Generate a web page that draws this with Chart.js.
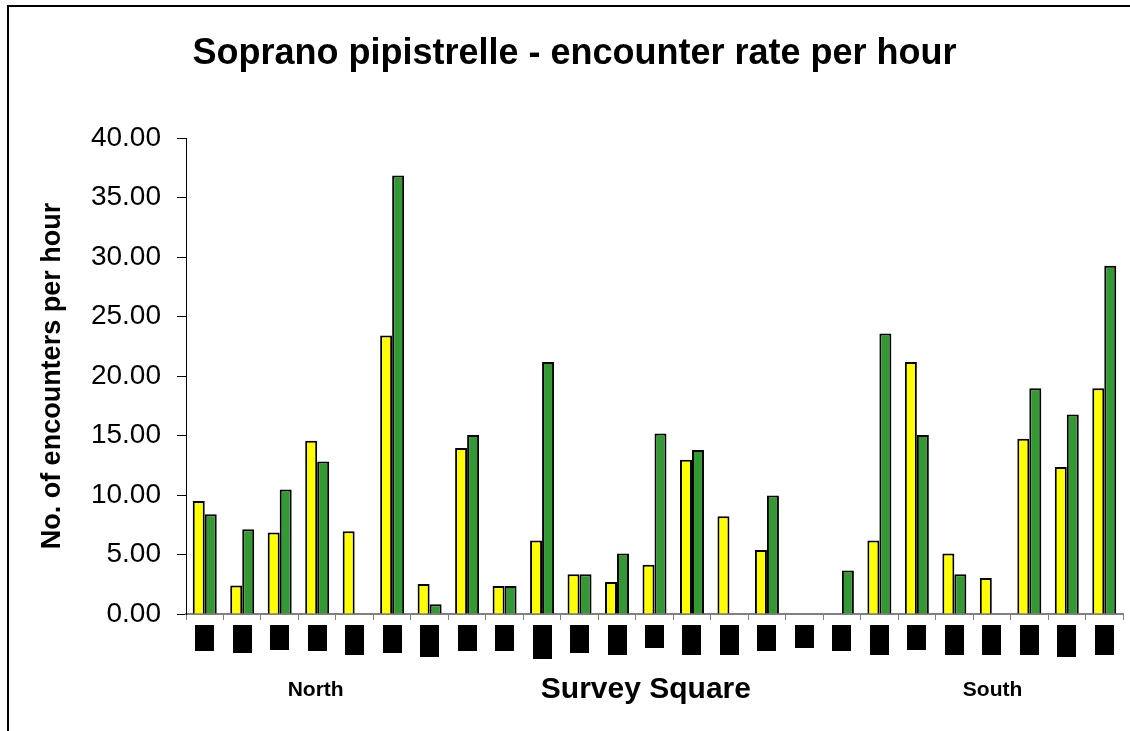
<!DOCTYPE html>
<html>
<head>
<meta charset="utf-8">
<script src="https://cdn.jsdelivr.net/npm/chart.js@4/dist/chart.umd.min.js"></script>
<style>
  html, body { margin: 0; padding: 0; background: #fff; }
  #wrap { position: relative; width: 1130px; height: 731px; }
  #frame { position: absolute; left: 7px; top: 5px; right: 0; bottom: 0;
           border-top: 2px solid #000; border-left: 2px solid #000; pointer-events: none; }
  canvas { position: absolute; left: 0; top: 0; }
</style>
</head>
<body>
<div id="wrap">
  <canvas id="chart" width="1130" height="731"></canvas>
  <div id="frame"></div>
</div>
<script>
// survey squares (names redacted in the source)
const squares = [
  "", "", "", "", "", "", "", "", "", "", "", "", "",
  "", "", "", "", "", "", "", "", "", "", "", ""
];
const yellowSeries = [
  9.49, 2.39, 6.85, 14.57, 6.96, 23.41, 2.53, 13.95, 2.36, 6.18, 3.34, 2.69, 4.13,
  12.97, 8.22, 5.39, 0, 0, 6.18, 21.19, 5.08, 3.03, 14.74, 12.35, 18.97
];
const greenSeries = [
  8.39, 7.13, 10.47, 12.83, 0, 36.86, 0.81, 15.05, 2.36, 21.19, 3.34, 5.08, 15.18,
  13.78, 0, 9.97, 0, 3.65, 23.58, 15.05, 3.34, 0, 18.97, 16.78, 29.28
];
const yTicks = [0, 5, 10, 15, 20, 25, 30, 35, 40];
const regionLabels = ["North", "South"];
const xAxisTitle = "Survey Square";

const FONT = "'Liberation Sans', Arial, sans-serif";

// black boxes covering the redacted square names, plus the texts below them
const redactPlugin = {
  id: "redact",
  afterDraw(chart, args, opts) {
    const ctx = chart.ctx;
    const x = chart.scales.x;
    ctx.save();
    ctx.fillStyle = "#000";
    squares.forEach((s, i) => {
      const cx = x.getPixelForTick(i);
      ctx.fillRect(Math.round(cx - 9.5), x.top + 11, 19, opts.heights[i]);
    });
    ctx.textAlign = "center";
    ctx.textBaseline = "middle";
    ctx.font = "bold 21px " + FONT;
    ctx.fillText(regionLabels[0], x.getPixelForValue(2.96), 690);
    ctx.fillText(regionLabels[1], x.getPixelForValue(21.02), 690);
    ctx.font = "bold 30px " + FONT;
    ctx.fillText(xAxisTitle, x.getPixelForValue(11.77), 690);
    ctx.restore();
  }
};

new Chart(document.getElementById("chart"), {
  type: "bar",
  data: {
    labels: squares,
    datasets: [
      { label: "Yellow", data: yellowSeries, backgroundColor: "#FFFF00",
        borderColor: "#000", borderWidth: 2 },
      { label: "Green", data: greenSeries, backgroundColor: "#339933",
        borderColor: "#000", borderWidth: 2 }
    ]
  },
  plugins: [redactPlugin],
  options: {
    responsive: false,
    animation: false,
    layout: { padding: { left: 26, right: 7, top: 32, bottom: 0 } },
    categoryPercentage: 0.64,
    barPercentage: 1.0,
    plugins: {
      legend: { display: false },
      tooltip: { enabled: false },
      title: {
        display: true,
        text: "Soprano pipistrelle - encounter rate per hour",
        color: "#000",
        font: { family: FONT, size: 36, weight: "bold" },
        padding: { top: 0, bottom: 63 }
      },
      redact: {
        heights: [26, 28, 25, 26, 30, 28, 32, 26, 26, 34, 28, 30, 23,
                  30, 30, 26, 23, 26, 30, 25, 30, 30, 30, 32, 30]
      }
    },
    scales: {
      x: {
        offset: true,
        afterFit: (s) => { s.height = 117; },
        grid: { offset: true, drawOnChartArea: false, tickLength: 6, color: "#808080", lineWidth: 1 },
        border: { color: "#808080", width: 2 },
        ticks: { display: true, font: { size: 1 }, color: "#fff" }
      },
      y: {
        min: 0, max: 40,
        afterFit: (s) => { s.width = 160; },
        afterBuildTicks: (s) => { s.ticks = yTicks.map(v => ({ value: v })); },
        grid: { drawOnChartArea: false, tickLength: 9, color: "#000" },
        border: { color: "#000", width: 1 },
        ticks: {
          color: "#000", padding: 16,
          font: { family: FONT, size: 28 },
          callback: (v) => Number(v).toFixed(2)
        },
        title: {
          display: true, text: "No. of encounters per hour", color: "#000",
          font: { family: FONT, size: 27, weight: "bold" },
          padding: { top: 10, bottom: 0 }
        }
      }
    }
  }
});
</script>
</body>
</html>
